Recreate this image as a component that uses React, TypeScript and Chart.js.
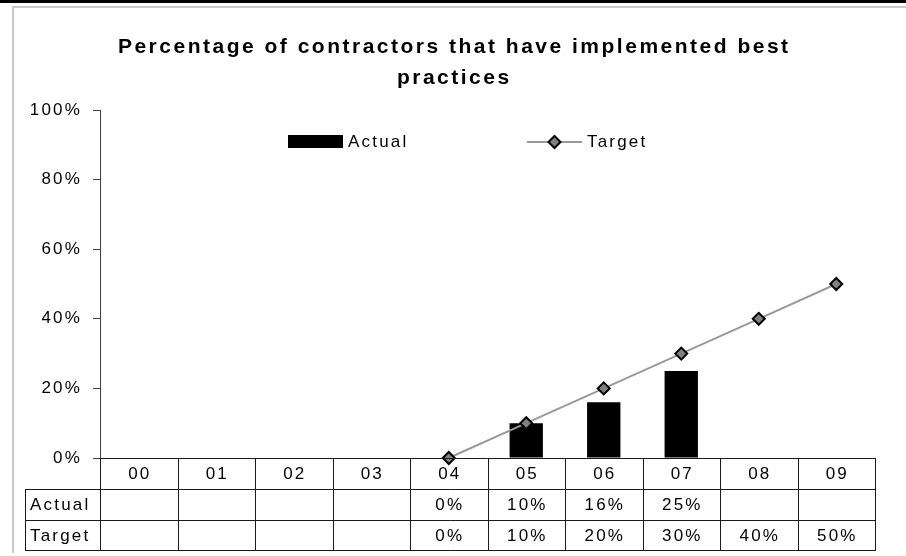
import React, { useEffect, useRef } from 'react';
import { Chart, registerables } from 'chart.js';

Chart.register(...registerables);

const categories = ['00', '01', '02', '03', '04', '05', '06', '07', '08', '09'];
const actualValues: (number | null)[] = [null, null, null, null, 0, 10, 16, 25, null, null];
const targetValues: (number | null)[] = [null, null, null, null, 0, 10, 20, 30, 40, 50];
const yTickStep = 20;
const yMax = 100;
const titleLines = ['Percentage of contractors that have implemented best', 'practices'];
const seriesNames = ['Actual', 'Target'];

const FONT = '"Liberation Sans", Arial, Helvetica, sans-serif';
const TEXT_SIZE = 17;
const TEXT_SPACING = 2.2;
const TITLE_SIZE = 21;
const TITLE_SPACING = 2.5;

const fmt = (v: number | null) => (v === null || v === undefined ? '' : `${v}%`);

function drawDiamond(ctx: CanvasRenderingContext2D, x: number, y: number, r: number) {
  ctx.beginPath();
  ctx.moveTo(x, y - r);
  ctx.lineTo(x + r, y);
  ctx.lineTo(x, y + r);
  ctx.lineTo(x - r, y);
  ctx.closePath();
  ctx.fillStyle = '#808080';
  ctx.fill();
  ctx.lineWidth = 2;
  ctx.strokeStyle = '#000';
  ctx.stroke();
}

const decorPlugin = {
  id: 'decor',
  beforeDraw(chart: any) {
    const ctx: CanvasRenderingContext2D = chart.ctx;
    ctx.save();
    ctx.fillStyle = '#ffffff';
    ctx.fillRect(0, 0, chart.width, chart.height);
    ctx.fillStyle = '#000000';
    ctx.fillRect(0, 0, chart.width, 3);
    ctx.fillStyle = '#c8c8c8';
    ctx.fillRect(12, 6, chart.width - 12, 2);
    ctx.fillRect(12, 6, 2, 547);
    ctx.restore();
    (ctx as any).letterSpacing = `${TEXT_SPACING}px`;
  },
  afterDraw(chart: any) {
    const ctx: CanvasRenderingContext2D = chart.ctx;
    const xs = chart.scales.x;
    const area = chart.chartArea;
    ctx.save();

    // Title
    (ctx as any).letterSpacing = `${TITLE_SPACING}px`;
    ctx.font = `bold ${TITLE_SIZE}px ${FONT}`;
    ctx.fillStyle = '#000';
    ctx.textAlign = 'center';
    ctx.textBaseline = 'middle';
    const titleY = [47, 78];
    titleLines.forEach((line, i) => {
      ctx.fillText(line, chart.width / 2 + TITLE_SPACING / 2, titleY[i]);
    });

    // Legend
    (ctx as any).letterSpacing = `${TEXT_SPACING}px`;
    ctx.font = `${TEXT_SIZE}px ${FONT}`;
    ctx.textAlign = 'left';
    const ly = 142;
    ctx.fillStyle = '#000';
    ctx.fillRect(288, 135, 55, 13);
    ctx.fillText(seriesNames[0], 348, ly);
    ctx.strokeStyle = '#999999';
    ctx.lineWidth = 2;
    ctx.beginPath();
    ctx.moveTo(527, ly);
    ctx.lineTo(582, ly);
    ctx.stroke();
    drawDiamond(ctx, 554.5, ly, 6);
    ctx.fillStyle = '#000';
    ctx.fillText(seriesNames[1], 587, ly);

    // Data table
    const n = categories.length;
    const colW = (area.right - area.left) / n;
    const top = area.bottom;
    const rowH = [31, 31, 30];
    const y1 = top + rowH[0];
    const y2 = y1 + rowH[1];
    const y3 = y2 + rowH[2];
    const labelLeft = 25;

    ctx.strokeStyle = '#1a1a1a';
    ctx.lineWidth = 1;
    ctx.beginPath();
    ctx.moveTo(area.left, top + 0.5);
    ctx.lineTo(area.right + 0.5, top + 0.5);
    [y1, y2, y3].forEach((yy) => {
      ctx.moveTo(labelLeft, yy + 0.5);
      ctx.lineTo(area.right + 0.5, yy + 0.5);
    });
    for (let i = 0; i <= n; i++) {
      const x = Math.round(area.left + i * colW) + 0.5;
      ctx.moveTo(x, top);
      ctx.lineTo(x, y3 + 1);
    }
    ctx.moveTo(labelLeft + 0.5, y1);
    ctx.lineTo(labelLeft + 0.5, y3 + 1);
    ctx.stroke();

    ctx.fillStyle = '#000';
    ctx.font = `${TEXT_SIZE}px ${FONT}`;
    ctx.textBaseline = 'middle';
    ctx.textAlign = 'center';
    const sp = TEXT_SPACING / 2;
    categories.forEach((c, i) => {
      const cx = xs.getPixelForValue(i) + sp;
      ctx.fillText(c, cx, top + rowH[0] / 2 + 1);
      ctx.fillText(fmt(actualValues[i]), cx, y1 + rowH[1] / 2 + 1);
      ctx.fillText(fmt(targetValues[i]), cx, y2 + rowH[2] / 2 + 1);
    });
    ctx.textAlign = 'left';
    ctx.fillText(seriesNames[0], labelLeft + 5, y1 + rowH[1] / 2 + 1);
    ctx.fillText(seriesNames[1], labelLeft + 5, y2 + rowH[2] / 2 + 1);

    ctx.restore();
  },
};

export default function App() {
  const ref = useRef<HTMLCanvasElement | null>(null);

  useEffect(() => {
    document.body.style.margin = '0';
    const canvas = ref.current;
    if (!canvas) return;
    const chart = new Chart(canvas, {
      type: 'bar',
      data: {
        labels: categories,
        datasets: [
          {
            type: 'line',
            label: seriesNames[1],
            data: targetValues,
            order: 0,
            borderColor: '#999999',
            borderWidth: 2,
            pointStyle: 'rectRot',
            pointRadius: 6,
            pointBackgroundColor: '#808080',
            pointBorderColor: '#000000',
            pointBorderWidth: 2,
            clip: false,
            tension: 0,
          } as any,
          {
            type: 'bar',
            label: seriesNames[0],
            data: actualValues,
            order: 1,
            backgroundColor: '#000000',
            borderWidth: 0,
            barPercentage: 0.43,
            categoryPercentage: 1,
          } as any,
        ],
      },
      options: {
        responsive: false,
        animation: false,
        events: [],
        layout: { padding: { left: 0, right: 31, top: 110, bottom: 98 } },
        plugins: {
          legend: { display: false },
          title: { display: false },
          tooltip: { enabled: false },
        },
        scales: {
          x: { type: 'category', display: false, offset: true },
          y: {
            min: 0,
            max: yMax,
            ticks: {
              stepSize: yTickStep,
              callback: (v: any) => `${v}%`,
              color: '#000',
              font: { family: FONT, size: TEXT_SIZE },
              padding: 11,
            },
            grid: { drawOnChartArea: false, drawTicks: true, tickLength: 7, color: '#404040', lineWidth: 1 },
            border: { display: true, color: '#404040', width: 1 },
            afterFit: (s: any) => {
              s.width = 100;
            },
          },
        },
      } as any,
      plugins: [decorPlugin],
    });
    return () => chart.destroy();
  }, []);

  return (
    <div style={{ position: 'absolute', left: 0, top: 0, width: 906, height: 556, background: '#fff' }}>
      <canvas ref={ref} width={906} height={556} style={{ display: 'block', width: 906, height: 556 }} />
    </div>
  );
}
